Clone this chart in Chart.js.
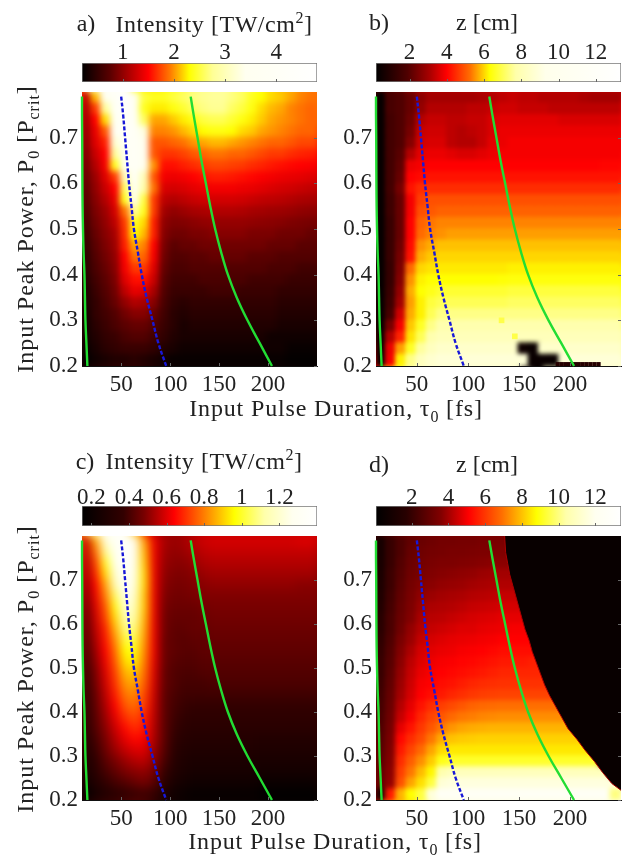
<!DOCTYPE html>
<html><head><meta charset="utf-8">
<script src="https://cdn.jsdelivr.net/npm/chart.js@4"></script>
<style>
html,body{margin:0;padding:0;background:#fff;width:640px;height:858px;overflow:hidden}
canvas{position:absolute}
.t{position:absolute;font-family:"Liberation Serif",serif;font-size:24px;color:#222;white-space:nowrap;line-height:1;transform:translate(-50%,-50%)}
.t sub,.t sup{font-size:16px;line-height:0}
.r{transform:translate(-50%,-50%) rotate(-90deg)}
</style></head><body>
<script>
const durationTicks=[50,100,150,200];
const powerTicks=[0.2,0.3,0.4,0.5,0.6,0.7];
const durations=[15,25,35,45,55,65,75,85,95,105,115,125,135,145,155,165,175,185,195,205,215,225,235,245];
const powers=[.7875,.7625,.7375,.7125,.6875,.6625,.6375,.6125,.5875,.5625,.5375,.5125,.4875,.4625,.4375,.4125,.3875,.3625,.3375,.3125,.2875,.2625,.2375,.2125];

const linePower=[.79,.75,.7,.65,.6,.55,.5,.45,.4,.35,.3,.25,.2];
const blueDuration=[50,52,54,56,58,60.5,63,67,71,76,82,88,96];
const greenRightDuration=[121,124,128,132,136.5,141,146,152,159,168,179,191.5,204];
const greenLeftDuration=[10,10,10.2,10.3,10.4,10.6,11,11.6,12.5,13,13.5,14.5,15.5];

const aTicks=[1,2,3,4], bTicks=[2,4,6,8,10,12], cTicks=[.2,.4,.6,.8,1,1.2], dTicks=[2,4,6,8,10,12];
const aRange=[.2,4.8], bRange=[.2,13.35], cRange=[.15,1.4], dRange=[.05,13.4];

const aStops=[.2,.75,1.5,1.92,2.3,2.76,3.4,4.8];
const bStops=[.2,1.9,3.1,4,5.25,6.3,7.7,9.3,13.35];
const cStops=[.15,.37,.48,.64,.78,.96,1.12,1.27,1.4];
const dStops=[.05,1.7,3.6,5.1,6.9,8.8,10.4,12,13.4];
const aColors=['#000','#5a0000','#ff0000','#ff7800','#ffff00','#ffff96','#fffff0','#fff'];
const hotColors=['#000','#500000','#aa0000','#ff0000','#ff6e00','#ffff00','#ffffaa','#ffffeb','#fff'];
const lowHotColors=['#000','#320000','#780000','#ff0000','#ff6e00','#ffff00','#ffffaa','#fffff0','#fff'];
const dColors=['#000','#280000','#820000','#ff0000','#ff6e00','#ffff00','#ffffaa','#fffff0','#fff'];

const aValues=[
[1.2,2.1,3.4,4,4.5,3.6,2.5,2.4,2.4,2.5,2.6,2.7,2.75,2.8,2.8,2.7,2.6,2.4,2.3,2.2,2.15,2.05,1.95,1.9],
[1.1,1.7,2.8,3.8,4.4,3.8,2.4,2.25,2.25,2.35,2.45,2.6,2.7,2.75,2.75,2.6,2.5,2.35,2.2,2.1,2.05,1.95,1.9,1.85],
[1.05,1.5,2.2,3.5,4.2,3.9,2.6,2.05,2.05,2.15,2.25,2.35,2.5,2.55,2.55,2.45,2.35,2.25,2.15,2.05,2,1.95,1.9,1.85],
[1,1.4,1.8,3.6,4.2,4,3.3,1.95,1.95,2,2.1,2.2,2.3,2.35,2.35,2.3,2.2,2.15,2.05,2,1.95,1.9,1.85,1.85],
[.95,1.35,1.6,3.2,4,4,3.4,1.8,1.8,1.85,1.9,2,2.05,2.1,2.1,2.05,2,1.95,1.9,1.85,1.85,1.8,1.75,1.75],
[.9,1.25,1.5,2.8,3.8,4,3.5,1.8,1.68,1.68,1.73,1.8,1.85,1.9,1.9,1.85,1.85,1.8,1.75,1.7,1.7,1.65,1.62,1.6],
[.85,1.15,1.45,2.4,3.6,4,3.4,2,1.55,1.55,1.6,1.65,1.7,1.75,1.75,1.72,1.7,1.65,1.62,1.58,1.55,1.52,1.5,1.48],
[.8,1.05,1.35,1.7,3,3.9,3,1.8,1.45,1.42,1.45,1.5,1.55,1.6,1.6,1.58,1.55,1.52,1.48,1.45,1.42,1.4,1.38,1.35],
[.75,1,1.25,1.5,2.6,3.6,2.9,1.9,1.33,1.3,1.33,1.38,1.42,1.45,1.45,1.45,1.42,1.4,1.37,1.33,1.3,1.28,1.25,1.22],
[.7,.95,1.15,1.4,2.4,3.4,2.5,1.7,1.2,1.15,1.2,1.25,1.28,1.3,1.3,1.3,1.28,1.25,1.22,1.2,1.18,1.15,1.12,1.1],
[.65,.9,1.05,1.3,1.9,2.8,2.4,1.7,1.08,1,1.05,1.1,1.12,1.15,1.15,1.15,1.13,1.1,1.08,1.06,1.05,1.03,1,.98],
[.6,.85,1,1.2,1.7,2.4,2.2,1.6,1,.92,.93,.97,1,1.02,1.02,1.02,1.02,1,.98,.97,.95,.92,.9,.88],
[.55,.8,.95,1.1,1.65,2.3,2.1,1.6,.95,.85,.85,.9,.9,.95,.95,.95,.95,.9,.9,.9,.85,.85,.85,.8],
[.5,.75,.9,1.05,1.6,2.05,1.95,1.5,.9,.75,.8,.8,.85,.85,.85,.85,.85,.85,.85,.8,.8,.8,.75,.75],
[.45,.7,.85,1,1.5,1.9,1.85,1.45,.85,.7,.7,.75,.75,.8,.8,.8,.8,.75,.75,.75,.7,.7,.7,.7],
[.45,.65,.8,.95,1.45,1.7,1.7,1.35,.8,.65,.65,.7,.7,.7,.7,.7,.7,.7,.7,.65,.65,.65,.6,.6],
[.4,.6,.75,.9,1.35,1.55,1.55,1.25,.75,.6,.6,.6,.65,.65,.65,.65,.65,.6,.6,.6,.6,.55,.55,.55],
[.35,.55,.7,.85,1.2,1.4,1.35,1.1,.7,.55,.55,.55,.55,.6,.6,.6,.55,.55,.55,.55,.5,.5,.5,.5],
[.35,.5,.65,.8,1,1.15,1.1,.95,.65,.5,.45,.5,.5,.5,.5,.5,.5,.5,.5,.5,.45,.45,.45,.45],
[.3,.5,.6,.7,.85,.95,.95,.8,.6,.45,.4,.45,.45,.45,.45,.45,.45,.45,.45,.45,.4,.4,.4,.4],
[.3,.45,.55,.65,.75,.8,.8,.7,.55,.45,.35,.4,.4,.4,.4,.4,.4,.4,.4,.4,.35,.35,.35,.35],
[.3,.4,.5,.55,.65,.7,.7,.6,.5,.4,.35,.35,.35,.35,.35,.35,.35,.35,.35,.3,.3,.3,.3,.3],
[.25,.35,.45,.5,.55,.55,.55,.5,.4,.35,.3,.3,.3,.3,.3,.3,.3,.3,.3,.3,.3,.25,.25,.25],
[.22,.3,.35,.4,.4,.45,.4,.35,.3,.25,.25,.25,.25,.25,.25,.25,.25,.25,.25,.25,.25,.22,.22,.22]];

const bValues=[
[.3,1.7,1.9,2.2,2.7,3,3,3,3,3,3.1,3.2,3.3,3.4,3.3,3.3,3.2,3.2,3.2,3.2,3.1,3,3,3],
[.3,1.7,1.9,2.2,2.8,3.2,3.2,3.2,3.2,3.3,3.3,3.4,3.5,3.5,3.4,3.4,3.4,3.3,3.3,3.3,3.3,3.3,3.3,3.3],
[.3,1.6,1.9,2.3,3.2,3.4,3.4,3.3,3.3,3.4,3.4,3.6,3.7,3.7,3.7,3.7,3.7,3.7,3.6,3.6,3.6,3.6,3.6,3.6],
[.3,1.6,1.9,2.4,3.4,3.5,3.5,3.3,3.2,3.3,3.4,3.6,3.8,3.8,3.8,3.8,3.8,3.8,3.8,3.8,3.8,3.8,3.8,3.8],
[.3,1.6,1.9,2.6,3.5,3.6,3.6,3.3,3.2,3.2,3.4,3.7,3.8,3.9,3.9,3.9,3.9,3.9,3.9,3.9,3.9,3.9,3.9,3.9],
[.3,1.6,2,3.2,3.7,3.8,3.8,3.7,3.6,3.6,3.7,3.8,3.9,3.9,3.9,3.9,3.9,3.9,3.9,3.9,3.9,3.9,3.9,3.9],
[.3,1.6,2.1,3.8,3.9,4,4,4,4,4,4,4,4,4,4,4,4,4,4,4,4,4,4.05,4.05],
[.3,1.6,2.2,4,4.1,4.2,4.2,4.2,4.2,4.2,4.2,4.2,4.2,4.2,4.2,4.2,4.2,4.2,4.2,4.2,4.2,4.2,4.2,4.2],
[.3,1.6,2.4,4.2,4.5,4.5,4.5,4.5,4.5,4.5,4.5,4.5,4.5,4.5,4.5,4.5,4.5,4.5,4.5,4.5,4.5,4.5,4.5,4.5],
[.3,1.5,2.2,3.9,4.7,4.9,4.9,4.9,4.9,4.9,4.9,4.9,4.9,4.9,4.9,4.9,4.9,4.9,4.9,4.9,4.9,4.9,4.9,4.9],
[.3,1.5,2.2,3.9,4.9,5,5.1,5.1,5.1,5.1,5.1,5.1,5.1,5.1,5.1,5.1,5.1,5.1,5.1,5.1,5.1,5.1,5.1,5.1],
[.3,1.4,2.2,4,5.1,5.3,5.4,5.4,5.4,5.4,5.4,5.4,5.4,5.4,5.4,5.4,5.4,5.4,5.4,5.4,5.4,5.4,5.4,5.4],
[.3,1.4,2.2,4,5.2,5.4,5.5,5.6,5.6,5.6,5.6,5.6,5.6,5.6,5.6,5.6,5.6,5.6,5.6,5.6,5.6,5.6,5.6,5.6],
[.3,1.4,2.3,4.1,5.5,5.7,5.85,5.85,5.85,5.85,5.85,5.85,5.85,5.85,5.85,5.85,5.85,5.85,5.85,5.85,5.85,5.85,5.85,5.85],
[.3,1.4,2.4,4.2,5.7,5.9,6,6,6,6,6,6,6,6,6,6,6,6,6,6,6,6,6,6],
[.3,1.3,2.5,5.2,6,6.1,6.15,6.15,6.15,6.15,6.15,6.15,6.15,6.2,6.2,6.2,6.2,6.2,6.2,6.2,6.2,6.2,6.2,6.2],
[.3,1.3,2.6,5.5,6.2,6.3,6.3,6.3,6.3,6.3,6.3,6.3,6.35,6.4,6.4,6.4,6.4,6.4,6.4,6.4,6.4,6.4,6.4,6.4],
[.3,1.4,2.8,5.7,6.3,6.5,6.7,6.7,6.7,6.7,6.7,6.7,6.7,6.8,6.8,6.8,6.8,6.8,6.8,6.8,6.8,6.8,6.8,6.8],
[.3,1.5,3,5.6,6.2,6.8,7,7,7,7,7,7,7,7.1,7.1,7.1,7.1,7.1,7.1,7.1,7.1,7.1,7.1,7.1],
[.3,1.7,3.5,5.7,6.2,7,7.4,7.4,7.4,7.4,7.4,7.4,7.4,7.4,7.4,7.4,7.4,7.4,7.4,7.4,7.4,7.4,7.4,7.4],
[.3,2.4,3.9,5.9,6.6,7.4,7.8,7.8,7.8,7.8,7.8,7.8,7.8,7.8,7.8,7.8,7.8,7.8,7.8,7.8,7.8,7.8,7.8,7.8],
[.3,3.2,4.4,6.1,7,7.8,8.1,8.1,8.1,8.1,8.1,8.1,8.1,8.1,8.1,8.1,8.1,8.1,8.1,8.1,8.1,8.1,8.1,8.1],
[.3,3.8,5.6,6.6,7.6,8.2,8.5,8.5,8.5,8.5,8.5,8.5,8.5,8.5,.5,.4,8.5,8.5,8.5,8.5,8.5,8.5,8.5,8.5],
[.3,3.9,6.2,7.4,8.2,8.6,8.8,8.8,8.8,8.8,8.8,8.8,8.8,8.8,8.8,.4,.4,.4,8.8,8.8,8.8,8.8,8.8,8.8]];
const bSpotDuration=[133,146,188,192,196,200,204,208,212,216,220,224,228];
const bSpotPower=[.3,.265,.204,.204,.204,.204,.204,.204,.204,.204,.204,.204,.204];
const bSpotValue=[6.9,6.9,1,1,1,1,1,1,1,1,1,1,1];

const cValues=[
[.56,.85,1.22,1.33,1.36,1.3,.85,.62,.54,.52,.53,.56,.58,.59,.59,.59,.59,.59,.59,.59,.59,.59,.6,.6],
[.55,.78,1.1,1.3,1.36,1.3,.88,.62,.53,.51,.52,.54,.56,.57,.57,.57,.57,.57,.57,.57,.57,.57,.57,.57],
[.53,.72,1,1.28,1.35,1.28,.9,.62,.52,.5,.5,.52,.54,.55,.55,.55,.55,.55,.55,.55,.55,.55,.55,.55],
[.52,.68,.92,1.22,1.33,1.26,.92,.62,.51,.49,.49,.5,.52,.53,.53,.53,.53,.53,.53,.53,.53,.53,.53,.53],
[.5,.64,.85,1.15,1.32,1.24,.92,.62,.5,.48,.48,.49,.5,.51,.51,.51,.51,.51,.51,.51,.51,.51,.5,.5],
[.48,.62,.8,1.05,1.28,1.2,.9,.62,.49,.47,.47,.48,.49,.49,.49,.49,.49,.49,.49,.49,.49,.49,.49,.49],
[.45,.6,.75,.98,1.22,1.16,.9,.62,.48,.46,.46,.46,.47,.48,.48,.48,.48,.48,.48,.48,.48,.48,.48,.48],
[.43,.58,.72,.92,1.15,1.12,.88,.62,.47,.45,.45,.45,.46,.47,.47,.47,.47,.47,.47,.47,.47,.47,.47,.47],
[.42,.56,.68,.87,1.08,1.08,.86,.62,.47,.44,.44,.45,.45,.46,.46,.46,.46,.46,.46,.46,.46,.46,.46,.46],
[.41,.54,.66,.82,1.02,1.03,.84,.62,.46,.44,.43,.44,.44,.45,.45,.45,.45,.45,.45,.45,.45,.45,.45,.45],
[.4,.52,.64,.78,.96,.98,.82,.62,.46,.44,.43,.43,.44,.44,.44,.44,.44,.44,.44,.44,.44,.44,.44,.44],
[.39,.5,.62,.75,.92,.94,.8,.61,.46,.43,.42,.42,.43,.43,.43,.43,.43,.43,.43,.43,.43,.43,.43,.43],
[.38,.48,.6,.72,.87,.89,.78,.6,.45,.42,.41,.41,.42,.42,.42,.42,.42,.42,.42,.42,.42,.42,.42,.42],
[.37,.47,.58,.7,.83,.85,.76,.59,.45,.42,.4,.4,.4,.41,.41,.41,.41,.41,.41,.41,.41,.41,.41,.41],
[.36,.45,.56,.67,.79,.81,.73,.58,.44,.41,.39,.39,.39,.39,.39,.39,.39,.39,.39,.39,.39,.39,.39,.39],
[.35,.44,.54,.64,.75,.78,.71,.57,.44,.4,.38,.37,.37,.37,.37,.37,.37,.37,.37,.37,.37,.37,.37,.37],
[.33,.43,.52,.61,.7,.74,.68,.56,.44,.39,.36,.35,.35,.35,.35,.35,.35,.35,.35,.35,.35,.35,.35,.35],
[.32,.42,.5,.58,.65,.7,.66,.55,.44,.38,.34,.33,.33,.33,.33,.33,.33,.33,.33,.33,.33,.33,.33,.33],
[.3,.4,.48,.55,.61,.65,.63,.54,.44,.36,.32,.31,.31,.31,.31,.31,.31,.31,.3,.3,.3,.3,.3,.3],
[.29,.38,.46,.52,.57,.6,.6,.52,.43,.34,.3,.29,.29,.29,.29,.29,.29,.29,.28,.28,.28,.28,.28,.28],
[.28,.35,.43,.48,.52,.55,.56,.5,.41,.32,.28,.27,.27,.27,.27,.27,.27,.27,.26,.26,.26,.26,.26,.26],
[.26,.33,.4,.44,.48,.5,.51,.47,.38,.3,.27,.25,.25,.25,.25,.25,.25,.25,.24,.24,.24,.24,.24,.24],
[.22,.3,.36,.4,.42,.45,.47,.43,.34,.27,.24,.22,.22,.22,.22,.22,.22,.22,.2,.2,.2,.2,.2,.2],
[.17,.25,.3,.33,.36,.38,.39,.37,.28,.22,.2,.18,.18,.18,.18,.18,.18,.18,.16,.16,.16,.16,.16,.16]];

const dValues=[
[.9,2,2.5,2.9,3.1,3.2,3.3,3.3,3.35,3.35,3.4,3.4,3.4,3.4,.1,.1,.1,.1,.1,.1,.1,.1,.1,.1],
[.9,2,2.5,3,3.2,3.3,3.35,3.4,3.4,3.45,3.5,3.5,3.55,3.55,.1,.1,.1,.1,.1,.1,.1,.1,.1,.1],
[1,2,2.6,3.1,3.3,3.4,3.5,3.5,3.55,3.6,3.65,3.7,3.7,3.7,.1,.1,.1,.1,.1,.1,.1,.1,.1,.1],
[1.1,2.1,2.7,3.2,3.4,3.55,3.65,3.7,3.75,3.8,3.9,3.95,4,4,.1,.1,.1,.1,.1,.1,.1,.1,.1,.1],
[1.2,2.1,2.8,3.3,3.6,3.7,3.8,3.85,3.9,4,4.05,4.1,4.15,4.15,4.15,.1,.1,.1,.1,.1,.1,.1,.1,.1],
[1.3,2.2,2.9,3.4,3.75,3.9,4,4.05,4.1,4.2,4.25,4.3,4.4,4.4,4.4,.1,.1,.1,.1,.1,.1,.1,.1,.1],
[1.4,2.3,3,3.5,3.9,4.1,4.15,4.2,4.3,4.4,4.45,4.5,4.6,4.6,4.6,.1,.1,.1,.1,.1,.1,.1,.1,.1],
[1.6,2.4,3.1,3.6,4.05,4.25,4.3,4.4,4.5,4.6,4.65,4.7,4.8,4.8,4.8,4.8,.1,.1,.1,.1,.1,.1,.1,.1],
[1.7,2.4,3.2,3.8,4.2,4.4,4.5,4.6,4.7,4.7,4.8,4.85,4.9,5,5,5,.1,.1,.1,.1,.1,.1,.1,.1],
[1.8,2.5,3.4,3.9,4.4,4.6,4.7,4.8,4.85,4.9,4.95,5,5.1,5.1,5.1,5.1,.1,.1,.1,.1,.1,.1,.1,.1],
[1.9,2.6,3.6,4.1,4.6,4.75,4.85,4.9,5,5.05,5.1,5.2,5.3,5.3,5.3,5.3,5.3,.1,.1,.1,.1,.1,.1,.1],
[2,2.7,3.7,4.3,4.7,4.9,5,5.05,5.15,5.2,5.3,5.4,5.5,5.5,5.5,5.6,5.6,.1,.1,.1,.1,.1,.1,.1],
[2,2.8,3.8,4.4,4.85,5,5.1,5.2,5.3,5.4,5.5,5.6,5.7,5.7,5.7,5.7,5.7,5.7,.1,.1,.1,.1,.1,.1],
[2.1,2.9,3.9,4.5,5,5.1,5.3,5.4,5.55,5.7,5.8,5.85,5.9,5.9,5.9,5.9,5.9,5.9,.1,.1,.1,.1,.1,.1],
[2.2,3,4,4.6,5.1,5.3,5.5,5.7,5.85,6,6.1,6.15,6.2,6.2,6.2,6.2,6.2,6.2,6.2,.1,.1,.1,.1,.1],
[2.3,3.1,4.2,4.8,5.4,5.8,6.1,6.3,6.5,6.7,6.8,6.85,6.9,6.9,6.9,6.9,6.9,6.9,6.9,.1,.1,.1,.1,.1],
[2.4,3.2,4.4,5,5.7,6.2,6.5,6.8,7,7.1,7.2,7.25,7.3,7.3,7.3,7.3,7.3,7.3,7.3,7.3,.1,.1,.1,.1],
[2.5,3.3,4.8,5.4,6,6.5,7,7.4,7.6,7.7,7.75,7.8,7.8,7.8,7.8,7.8,7.8,7.8,7.8,7.8,.1,.1,.1,.1],
[2.6,3.4,5.2,5.8,6.3,7,7.7,8,8.1,8.15,8.2,8.2,8.2,8.2,8.2,8.2,8.2,8.2,8.2,8.2,8.2,.1,.1,.1],
[2.7,3.5,5.5,6.2,6.8,7.6,8.3,8.5,8.5,8.5,8.5,8.5,8.5,8.5,8.5,8.5,8.5,8.5,8.5,8.5,8.5,8.5,.1,.1],
[2.8,3.6,5.8,6.6,7.3,8.1,9,9.2,9.2,9.2,9.2,9.2,9.2,9.2,9.2,9.2,9.2,9.2,9.2,9.2,9.2,9.2,.1,.1],
[2.9,3.7,6.1,7,7.9,8.7,10.5,10.8,10.8,10.8,10.8,10.8,10.8,10.8,10.8,10.8,10.8,10.8,10.8,10.8,10.8,10.8,10.8,.1],
[2.9,3.8,6.4,7.6,8.4,9.4,11.4,11.6,11.6,11.6,11.6,11.6,11.6,11.6,11.6,11.6,11.6,11.6,11.6,11.6,11.6,11.6,11.6,11.6],
[1,5.5,7.8,8.8,9.4,11.5,12.5,12.5,12.5,12.5,12.5,12.5,12.5,12.5,12.5,12.5,12.5,12.5,12.5,12.5,12.5,12.5,12.5,10]];
const dEdgeDuration=[136,137,139,141,144,147,150,153,156,160,163,167,171,175,180,186,192,198,207,215,224,232,241,250];
const dEdgePower=[.8,.7625,.7375,.7125,.6875,.6625,.6375,.6125,.5875,.5625,.5375,.5125,.4875,.4625,.4375,.4125,.3875,.3625,.3375,.3125,.2875,.2625,.2375,.222];

function colorFor(v,stops,colors){
  const rgb=colors.map(c=>{c=c.slice(1);if(c.length===3)c=c.split('').map(h=>h+h).join('');return [0,2,4].map(i=>parseInt(c.substr(i,2),16));});
  if(v<=stops[0])return `rgb(${rgb[0]})`;
  for(let i=1;i<stops.length;i++){
    if(v<=stops[i]){const f=(v-stops[i-1])/(stops[i]-stops[i-1]);
      return `rgb(${rgb[i].map((c,k)=>Math.round(rgb[i-1][k]+(c-rgb[i-1][k])*f))})`;}
  }
  return `rgb(${rgb[rgb.length-1]})`;
}
function mk(l,t,w,h){const c=document.createElement('canvas');c.width=w;c.height=h;c.style.left=l+'px';c.style.top=t+'px';c.style.width=w+'px';c.style.height=h+'px';document.body.appendChild(c);return c;}
const FONT={family:'"Liberation Serif",serif',size:23};
const INK='#222';

const blurPlugin={id:'soften',afterDatasetDraw(chart,args,opts){
  if(args.index!==5||!opts.radius)return;
  const a=chart.chartArea,w=Math.round(a.right-a.left),h=Math.round(a.bottom-a.top),l=Math.round(a.left),t=Math.round(a.top),m=16;
  const off=document.createElement('canvas');off.width=w+2*m;off.height=h+2*m;
  const g=off.getContext('2d');
  g.drawImage(chart.canvas,l,t,w,h,0,0,w+2*m,h+2*m);
  g.drawImage(chart.canvas,l,t,w,h,m,m,w,h);
  const ctx=chart.ctx;ctx.save();ctx.beginPath();ctx.rect(l,t,w,h);ctx.clip();
  ctx.filter=`blur(${opts.radius}px)`;ctx.drawImage(off,l-m,t-m);ctx.restore();
}};
const tickPlugin={id:'innerTicks',afterDraw(chart,args,opts){
  const ctx=chart.ctx,a=chart.chartArea;ctx.save();ctx.strokeStyle='#666';ctx.lineWidth=1;ctx.beginPath();
  (opts.x||[]).forEach(v=>{const p=Math.round(chart.scales.x.getPixelForValue(v))+.5;ctx.moveTo(p,a.bottom);ctx.lineTo(p,a.bottom-3);});
  (opts.y||[]).forEach(v=>{const p=Math.round(chart.scales.y.getPixelForValue(v))+.5;ctx.moveTo(a.right,p);ctx.lineTo(a.right-3,p);});
  ctx.stroke();ctx.restore();
}};

function panel(L,T,W,H,values,stops,colors,blur,spots,edge){
  const cv=mk(L-52,T-20,W+52+14,H+20+38);
  const dx=W/24,dy=H/24,radius=(Math.max(dx,dy)/2+.8)/Math.SQRT1_2;
  const cells=[];
  powers.forEach((p,r)=>durations.forEach((d,c)=>cells.push({x:d,y:p,v:values[r][c]})));
  const spotPts=spots?spots[0].map((d,i)=>({x:d,y:spots[1][i],v:spots[2][i]})):[];
  const edgePts=edge?edge[0].map((x,i)=>({x,y:edge[1][i]})):[];
  const line=(xs,color,dash)=>({type:'scatter',showLine:true,data:xs.map((x,i)=>({x,y:linePower[i]})),borderColor:color,borderWidth:2.4,borderDash:dash,pointRadius:0,tension:.4,clip:2});
  new Chart(cv,{type:'scatter',plugins:[blurPlugin,tickPlugin],data:{datasets:[
    line(blueDuration,'#1818d8',[4,2]),
    line(greenLeftDuration,'#22dd33',[]),
    line(greenRightDuration,'#22dd33',[]),
    {data:edgePts,showLine:true,pointRadius:0,borderColor:'#a80000',borderWidth:1,backgroundColor:'#080000',fill:'end',tension:0},
    {data:spotPts,pointStyle:'rect',pointRadius:ctx=>ctx.raw&&ctx.raw.v<2?3:4,borderWidth:0,backgroundColor:ctx=>colorFor(ctx.raw?ctx.raw.v:0,stops,colors)},
    {data:cells,pointStyle:'rect',pointRadius:radius,borderWidth:0,backgroundColor:ctx=>colorFor(ctx.raw?ctx.raw.v:0,stops,colors)}
  ]},options:{responsive:false,animation:false,events:[],
    layout:{padding:{top:20,right:14,left:0,bottom:0}},
    plugins:{legend:{display:false},tooltip:{enabled:false},soften:{radius:blur},innerTicks:{x:durationTicks,y:powerTicks}},
    scales:{
      x:{type:'linear',min:10,max:250,z:1,afterBuildTicks:s=>{s.ticks=durationTicks.map(value=>({value}));},afterFit:s=>{s.height=38;},
        grid:{display:false,drawTicks:false},border:{color:'#111',width:1},ticks:{font:FONT,color:INK,maxRotation:0,padding:5,autoSkip:false}},
      y:{type:'linear',min:.2,max:.8,z:1,afterBuildTicks:s=>{s.ticks=powerTicks.map(value=>({value}));},afterFit:s=>{s.width=52;},
        grid:{display:false,drawTicks:false},border:{color:'#111',width:1},ticks:{font:FONT,color:INK,padding:4,autoSkip:false,callback:v=>v.toFixed(1)}}
    }}});
}
function bar(L,T,W,H,range,ticks,stops,colors,pad){
  const cv=mk(L-30,T-36,W+50,H+36+2);
  new Chart(cv,{type:'bar',plugins:[tickPlugin],data:{labels:[''],datasets:[{data:[range],barPercentage:1,categoryPercentage:1,borderWidth:1,borderColor:'#777',borderSkipped:false,
    backgroundColor:ctx=>{const c=ctx.chart,a=c.chartArea;if(!a)return '#000';const g=c.ctx.createLinearGradient(a.left,0,a.right,0);
      stops.forEach((s,i)=>{const f=(s-range[0])/(range[1]-range[0]);g.addColorStop(Math.min(1,Math.max(0,f)),colors[i]);});return g;}}]},
    options:{indexAxis:'y',responsive:false,animation:false,events:[],
      layout:{padding:{top:0,right:20,left:30,bottom:2}},
      plugins:{legend:{display:false},tooltip:{enabled:false},innerTicks:{x:ticks}},
      scales:{
        x:{type:'linear',position:'top',min:range[0],max:range[1],afterBuildTicks:s=>{s.ticks=ticks.map(value=>({value}));},afterFit:s=>{s.height=36;},
          grid:{display:false,drawTicks:false},border:{display:false},ticks:{font:FONT,color:INK,padding:pad,maxRotation:0,autoSkip:false,callback:v=>String(+v.toFixed(1))}},
        y:{display:false}
      }}});
}
function text(html,x,y,rot,sp){const d=document.createElement('div');d.className='t'+(rot?' r':'');d.innerHTML=html;d.style.left=x+'px';d.style.top=y+'px';if(sp)d.style.letterSpacing=sp+'px';document.body.appendChild(d);}

panel(82,92,235,274,aValues,aStops,aColors,3,null,null);
panel(376,92,245,274,bValues,bStops,hotColors,2,[bSpotDuration,bSpotPower,bSpotValue],null);
panel(82,536,235,264,cValues,cStops,lowHotColors,5,null,null);
panel(376,536,245,264,dValues,dStops,dColors,2.5,null,[dEdgeDuration,dEdgePower]);
bar(82,63,235,19,aRange,aTicks,aStops,aColors,-4);
bar(376,63,245,19,bRange,bTicks,bStops,hotColors,-4);
bar(82,506,235,20,cRange,cTicks,cStops,lowHotColors,-6);
bar(376,506,245,20,dRange,dTicks,dStops,dColors,-6);

text('a)',86,23);text('Intensity [TW/cm<sup>2</sup>]',214,24,false,.55);
text('b)',379,22);text('z [cm]',487,22);
text('c)',85,461);text('Intensity [TW/cm<sup>2</sup>]',204,461,false,.55);
text('d)',379,464);text('z [cm]',487,464);
text('Input Peak Power, P<sub>0</sub> [P<sub>crit</sub>]',25,229,true,1);
text('Input Peak Power, P<sub>0</sub> [P<sub>crit</sub>]',25,669,true,1);
text('Input Pulse Duration, τ<sub>0</sub> [fs]',336,408,false,.85);
text('Input Pulse Duration, τ<sub>0</sub> [fs]',335,841,false,.85);
</script>
</body></html>
